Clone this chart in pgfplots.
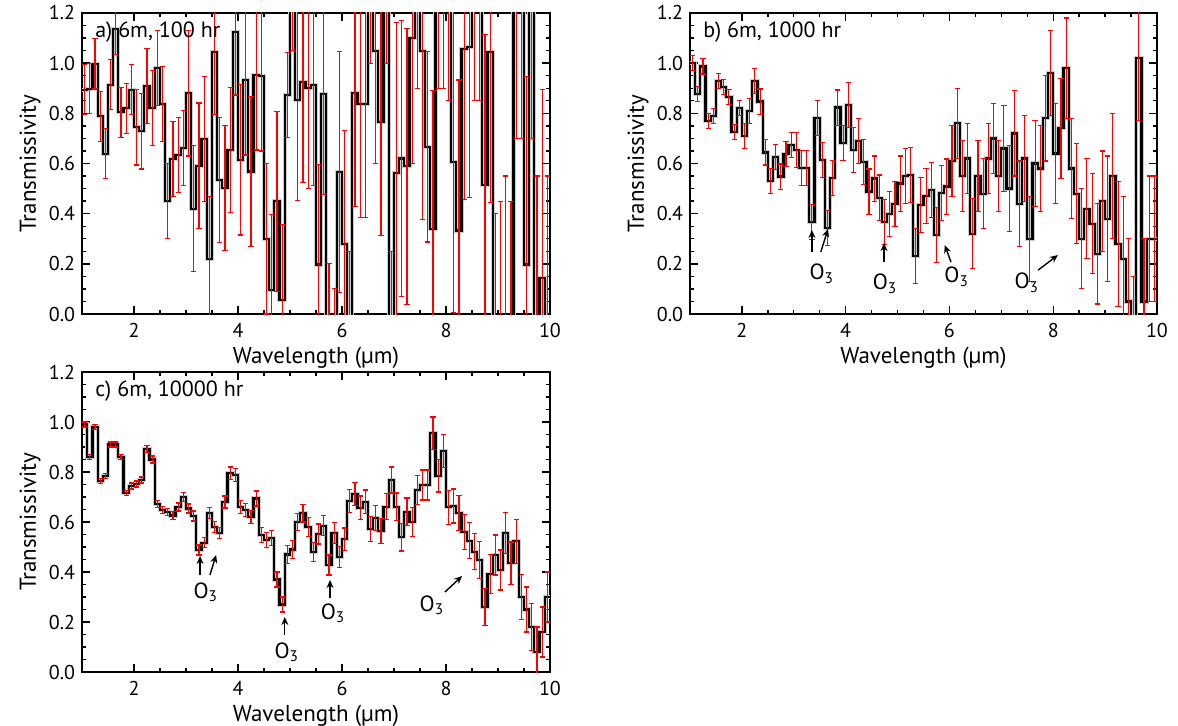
\documentclass[border=0pt]{standalone}
\usepackage{pgfplots}
\pgfplotsset{compat=1.18}
\usepackage{pgfplotstable}
\usetikzlibrary{arrows.meta}
\usepackage{fontspec}
\setmainfont{PT Sans}

% columns: left bin edge (um), transmissivity, 1-sigma error
\pgfplotstableread{
x v e
1.0 0.894 0.10
1.1 0.898 0.10
1.2 0.997 0.10
1.3 0.788 0.10
1.4 0.639 0.10
1.5 0.914 0.10
1.6 1.136 0.10
1.7 0.804 0.10
1.8 0.820 0.10
1.9 0.894 0.10
2.0 0.744 0.15
2.1 0.728 0.15
2.2 0.910 0.15
2.3 0.820 0.15
2.4 0.980 0.15
2.5 0.838 0.15
2.6 0.450 0.15
2.7 0.617 0.15
2.8 0.634 0.15
2.9 0.661 0.15
3.0 0.880 0.25
3.1 0.420 0.25
3.2 0.591 0.25
3.3 0.697 0.25
3.4 0.220 0.25
3.5 1.044 0.25
3.6 0.535 0.25
3.7 0.502 0.25
3.8 0.654 0.25
3.9 1.123 0.25
4.0 0.615 0.30
4.1 0.934 0.30
4.2 0.568 0.30
4.3 0.954 0.30
4.4 0.950 0.30
4.5 0.300 0.30
4.6 0.096 0.30
4.7 0.449 0.36
4.8 0.056 0.30
4.9 0.873 0.17
5.0 1.450 0.40
5.1 0.853 0.40
5.2 0.924 0.40
5.3 0.900 0.40
5.4 0.913 0.40
5.5 0.197 0.40
5.6 0.876 0.40
5.7 -0.200 0.40
5.8 -0.300 0.40
5.9 0.567 0.48
6.0 0.280 0.45
6.1 -0.200 0.45
6.2 0.880 0.45
6.3 0.836 0.45
6.4 0.836 0.45
6.5 1.450 0.45
6.6 1.050 0.45
6.7 0.764 0.45
6.8 1.450 0.45
6.9 -0.200 0.45
7.0 0.563 0.60
7.1 0.620 0.55
7.2 0.589 0.55
7.3 1.100 0.50
7.4 1.450 0.55
7.5 1.047 0.67
7.6 0.667 0.38
7.7 0.340 0.55
7.8 1.450 0.55
7.9 1.450 0.55
8.0 1.450 0.60
8.1 0.607 0.60
8.2 0.333 0.60
8.3 1.057 0.60
8.4 1.063 0.60
8.5 1.450 0.60
8.6 1.450 0.60
8.7 0.513 0.60
8.8 1.044 0.60
8.9 -0.200 0.60
9.0 -0.300 0.75
9.1 -0.200 0.75
9.2 -0.300 0.75
9.3 1.450 0.75
9.4 1.450 0.75
9.5 0.197 0.75
9.6 1.450 0.75
9.7 -0.200 0.75
9.8 0.144 0.75
9.9 -0.200 0.75
10.0 -0.200 0
}\specA

\pgfplotstableread{
x v e
1.0 1.000 0.03
1.1 0.877 0.03
1.2 0.987 0.03
1.3 0.770 0.03
1.4 0.790 0.03
1.5 0.930 0.03
1.6 0.906 0.03
1.7 0.866 0.03
1.8 0.725 0.03
1.9 0.820 0.03
2.0 0.710 0.05
2.1 0.810 0.05
2.2 0.929 0.05
2.3 0.847 0.05
2.4 0.644 0.05
2.5 0.531 0.05
2.6 0.627 0.05
2.7 0.548 0.05
2.8 0.638 0.05
2.9 0.674 0.05
3.0 0.654 0.07
3.1 0.581 0.07
3.2 0.581 0.07
3.3 0.366 0.07
3.4 0.780 0.07
3.5 0.614 0.07
3.6 0.342 0.07
3.7 0.541 0.07
3.8 0.823 0.07
3.9 0.681 0.07
4.0 0.833 0.09
4.1 0.654 0.09
4.2 0.691 0.09
4.3 0.607 0.09
4.4 0.488 0.09
4.5 0.540 0.09
4.6 0.464 0.09
4.7 0.368 0.09
4.8 0.400 0.09
4.9 0.440 0.09
5.0 0.520 0.11
5.1 0.550 0.11
5.2 0.554 0.11
5.3 0.231 0.11
5.4 0.435 0.11
5.5 0.470 0.11
5.6 0.495 0.11
5.7 0.315 0.11
5.8 0.481 0.11
5.9 0.508 0.11
6.0 0.610 0.14
6.1 0.760 0.14
6.2 0.550 0.14
6.3 0.620 0.14
6.4 0.320 0.14
6.5 0.550 0.14
6.6 0.480 0.14
6.7 0.620 0.14
6.8 0.700 0.14
6.9 0.550 0.14
7.0 0.660 0.17
7.1 0.500 0.17
7.2 0.720 0.17
7.3 0.440 0.17
7.4 0.620 0.17
7.5 0.300 0.17
7.6 0.600 0.17
7.7 0.580 0.17
7.8 0.780 0.17
7.9 0.960 0.17
8.0 0.640 0.20
8.1 0.740 0.20
8.2 0.980 0.20
8.3 0.580 0.20
8.4 0.480 0.20
8.5 0.300 0.20
8.6 0.420 0.20
8.7 0.360 0.20
8.8 0.240 0.20
8.9 0.450 0.20
9.0 0.380 0.25
9.1 0.550 0.25
9.2 0.280 0.25
9.3 0.220 0.25
9.4 0.050 0.25
9.5 -0.100 0.25
9.6 1.020 0.25
9.7 0.050 0.25
9.8 0.300 0.25
9.9 0.300 0.25
10.0 0.300 0
}\specB

\pgfplotstableread{
x v e
1.0 0.990 0.010
1.1 0.860 0.010
1.2 0.980 0.010
1.3 0.765 0.010
1.4 0.785 0.010
1.5 0.910 0.010
1.6 0.910 0.010
1.7 0.860 0.010
1.8 0.715 0.010
1.9 0.744 0.012
2.0 0.752 0.012
2.1 0.768 0.012
2.2 0.892 0.014
2.3 0.850 0.014
2.4 0.672 0.015
2.5 0.648 0.015
2.6 0.640 0.015
2.7 0.626 0.016
2.8 0.660 0.016
2.9 0.700 0.018
3.0 0.654 0.018
3.1 0.624 0.020
3.2 0.488 0.020
3.3 0.517 0.020
3.4 0.637 0.022
3.5 0.581 0.022
3.6 0.555 0.022
3.7 0.680 0.024
3.8 0.795 0.025
3.9 0.788 0.025
4.0 0.660 0.026
4.1 0.648 0.026
4.2 0.620 0.027
4.3 0.694 0.030
4.4 0.548 0.030
4.5 0.528 0.030
4.6 0.535 0.030
4.7 0.370 0.030
4.8 0.270 0.030
4.9 0.470 0.035
5.0 0.490 0.035
5.1 0.600 0.035
5.2 0.635 0.035
5.3 0.581 0.038
5.4 0.481 0.038
5.5 0.552 0.040
5.6 0.585 0.040
5.7 0.428 0.040
5.8 0.557 0.042
5.9 0.461 0.042
6.0 0.531 0.045
6.1 0.684 0.045
6.2 0.712 0.045
6.3 0.657 0.047
6.4 0.681 0.047
6.5 0.572 0.050
6.6 0.615 0.050
6.7 0.565 0.050
6.8 0.661 0.052
6.9 0.768 0.052
7.0 0.661 0.055
7.1 0.539 0.055
7.2 0.641 0.055
7.3 0.601 0.058
7.4 0.728 0.058
7.5 0.748 0.060
7.6 0.748 0.060
7.7 0.955 0.065
7.8 0.785 0.065
7.9 0.884 0.065
8.0 0.659 0.068
8.1 0.664 0.068
8.2 0.635 0.070
8.3 0.561 0.070
8.4 0.525 0.072
8.5 0.481 0.072
8.6 0.448 0.075
8.7 0.260 0.075
8.8 0.392 0.078
8.9 0.468 0.080
9.0 0.408 0.080
9.1 0.557 0.082
9.2 0.435 0.085
9.3 0.523 0.088
9.4 0.300 0.090
9.5 0.250 0.090
9.6 0.180 0.095
9.7 0.080 0.100
9.8 0.160 0.100
9.9 0.300 0.100
10.0 0.300 0
}\specC

\pgfplotsset{
  spec/.style={
    scale only axis, anchor=south west,
    xmin=1, xmax=10, ymin=0, ymax=1.2,
    xtick={2,4,6,8,10}, minor x tick num=3,
    ytick={0,0.2,...,1.2}, minor y tick num=3,
    yticklabel style={/pgf/number format/.cd, fixed, fixed zerofill, precision=1},
    /pgf/number format/assume math mode=true,
    tick align=inside, major tick length=4pt, minor tick length=2pt,
    every tick/.style={black, line width=0.7pt},
    axis line style={line width=0.9pt},
    tick label style={font=\fontsize{10}{12}\selectfont},
    xticklabel style={yshift=-1pt},
    label style={font=\fontsize{11.5}{13}\selectfont},
    xlabel={Wavelength (µm)}, ylabel={Transmissivity},
    xlabel style={at={(axis description cs:0.5,-0.145)}, anchor=center},
    ylabel style={at={(axis description cs:-0.111,0.5)}, anchor=center},
  },
  halo/.style={const plot, draw=gray!40, line width=2.1pt, line join=miter},
  stepline/.style={const plot, draw=black, line width=1.1pt, line join=miter},
  errs/.style={color=red, draw=none, mark=none, restrict x to domain=0:9.99,
    error bars/.cd, y dir=both, y explicit,
    error bar style={draw=red, line width=0.55pt},
    error mark options={draw=red, rotate=90, mark size=1.3pt, line width=0.55pt}},
}
\tikzset{
  o3/.style={font=\fontsize{11}{13}\selectfont},
  o3arrow/.style={-{Stealth[length=4pt,width=3.5pt]}, line width=0.7pt},
}

\begin{document}
\begin{tikzpicture}
\path[use as bounding box] (0,0) rectangle (589pt,362.5pt);

% a) 100 hr
\begin{axis}[spec, at={(41pt,205.5pt)}, width=234pt, height=150.5pt]
\addplot[halo] table[x=x, y=v] {\specA};
\addplot[stepline] table[x=x, y=v] {\specA};
\addplot[errs] table[x expr=\thisrow{x}+0.05, y=v, y error=e] {\specA};
\node[anchor=west, font=\fontsize{11}{13}\selectfont] at (axis cs:1.12,1.125) {a) 6m, 100 hr};
\end{axis}

% b) 1000 hr
\begin{axis}[spec, at={(345pt,205.5pt)}, width=233.5pt, height=150.5pt]
\addplot[halo] table[x=x, y=v] {\specB};
\addplot[stepline] table[x=x, y=v] {\specB};
\addplot[errs] table[x expr=\thisrow{x}+0.05, y=v, y error=e] {\specB};
\node[anchor=west, font=\fontsize{11}{13}\selectfont] at (axis cs:1.12,1.125) {b) 6m, 1000 hr};
\draw[o3arrow] (axis cs:3.35,0.247) -- (axis cs:3.35,0.335);
\draw[o3arrow] (axis cs:3.52,0.247) -- (axis cs:3.66,0.339);
\node[o3] at (axis cs:3.54,0.16) {O\textsubscript{3}};
\draw[o3arrow] (axis cs:4.74,0.207) -- (axis cs:4.74,0.283);
\node[o3] at (axis cs:4.76,0.12) {O\textsubscript{3}};
\draw[o3arrow] (axis cs:6.03,0.207) -- (axis cs:5.91,0.275);
\node[o3] at (axis cs:6.14,0.148) {O\textsubscript{3}};
\draw[o3arrow] (axis cs:7.71,0.175) -- (axis cs:8.09,0.235);
\node[o3] at (axis cs:7.49,0.124) {O\textsubscript{3}};
\end{axis}

% c) 10000 hr
\begin{axis}[spec, at={(41pt,26.5pt)}, width=234pt, height=150pt]
\addplot[halo] table[x=x, y=v] {\specC};
\addplot[stepline] table[x=x, y=v] {\specC};
\addplot[errs] table[x expr=\thisrow{x}+0.05, y=v, y error=e] {\specC};
\node[anchor=west, font=\fontsize{11}{13}\selectfont] at (axis cs:1.12,1.125) {c) 6m, 10000 hr};
\draw[o3arrow] (axis cs:3.27,0.388) -- (axis cs:3.27,0.464);
\draw[o3arrow] (axis cs:3.46,0.388) -- (axis cs:3.58,0.468);
\node[o3] at (axis cs:3.38,0.32) {O\textsubscript{3}};
\draw[o3arrow] (axis cs:4.90,0.148) -- (axis cs:4.90,0.220);
\node[o3] at (axis cs:4.94,0.08) {O\textsubscript{3}};
\draw[o3arrow] (axis cs:5.77,0.296) -- (axis cs:5.77,0.368);
\node[o3] at (axis cs:5.83,0.236) {O\textsubscript{3}};
\draw[o3arrow] (axis cs:7.98,0.320) -- (axis cs:8.31,0.384);
\node[o3] at (axis cs:7.73,0.268) {O\textsubscript{3}};
\end{axis}
\end{tikzpicture}
\end{document}
